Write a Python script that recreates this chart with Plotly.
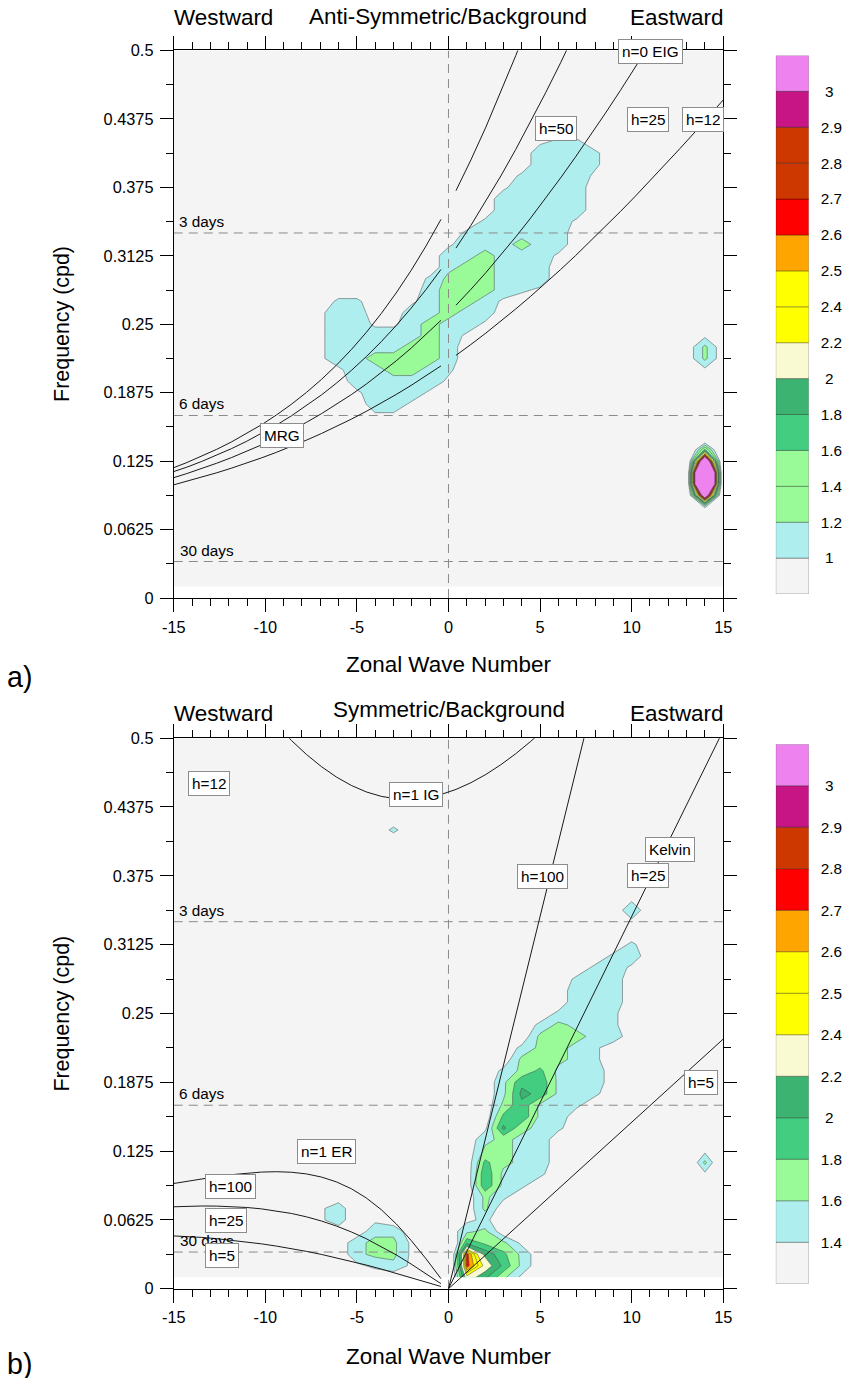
import numpy as np
import plotly.graph_objects as go

# Layout positions below are given in page pixels of an 842 x 1378 page.
# The page is shown with a small scale and offset, folded into these constants.
PAGE_W, PAGE_H = 842, 1378
VIEW_SCALE_X, VIEW_SHIFT_X = 0.9745, 11.9
VIEW_SCALE_Y, VIEW_SHIFT_Y = 0.986, 8.6
W = int(round((PAGE_W - VIEW_SHIFT_X) / VIEW_SCALE_X))
H = int(round((PAGE_H - VIEW_SHIFT_Y) / VIEW_SCALE_Y))
FS = 1 / 0.98                       # font size factor for the same scaling
FONT = "Liberation Sans, Arial, Helvetica, sans-serif"

# ---------------------------------------------------------------- grid
wavenumbers = list(range(-15, 16))
frequencies = [j / 96 for j in range(1, 49)]          # cpd, 96-day window

# Each code character is a spectral ratio: 0.05 + 0.1 * position in RATIO_CODES
RATIO_CODES = "0123456789abcdefghijklmnopqrstuvwxyzABCDEFGHIJKLMNOPQRSTUVWXYZ"

# wavenumber -> [(first frequency index, ratio codes going up in frequency)]
anti_background = "8"
anti_columns = {
    -7: [(21, "99999")],
    -6: [(20, "9bbbbba")],
    -5: [(18, "9bbbbbbba")],
    -4: [(16, "9bbbbcbb9")],
    -3: [(16, "9bbbccbb9")],
    -2: [(17, "9bbcccbbb9")],
    -1: [(18, "9bbccccbbba")],
    0: [(19, "9abbbbccccbb9")],
    1: [(23, "9bbccccbba")],
    2: [(24, "9bbccccbba")],
    3: [(26, "9bbbbbbbbb9")],
    4: [(27, "abbbcbbbbba")],
    5: [(27, "9bbbbbbbbbbbb9")],
    6: [(30, "9bbbbbbbbba")],
    7: [(33, "9bbbbbba")],
    8: [(37, "9aa")],
    13: [(7, "33333333")],
    14: [(7, "3azZZCg5"), (20, "9cc9")],
    15: [(7, "33333333")],
}

sym_background = "c"
sym_columns = {
    -7: [(6, "dd")],
    -6: [(6, "ff")],
    -5: [(2, "dff"), (6, "bb")],
    -4: [(2, "eggfd")],
    -3: [(2, "fggfc"), (40, "e")],
    -2: [(2, "ddd")],
    0: [(1, "8888")],
    1: [(1, "nrrjfd")],
    2: [(1, "knlhgeggjjigfd")],
    3: [(1, "gjigccceffgggkigffe")],
    4: [(1, "dffdcccceffffgjjkjgge")],
    5: [(10, "effffffjjiggge")],
    6: [(14, "efffffgggge")],
    7: [(16, "efffffgffffe")],
    8: [(17, "effeeffffffe")],
    9: [(22, "feeffffe")],
    10: [(28, "dfe"), (32, "dfd")],
    13: [(10, "aaa")],
    14: [(10, "dgd")],
    15: [(10, "aaa")],
}

# ---------------------------------------------------------------- levels / colours
WHITESMOKE = "#F4F4F4"
PALE_TURQ = "#AFEEEE"
PALE_GREEN = "#98FB98"
MED_GREEN = "#43CD80"
SEA_GREEN = "#3CB371"
CREAM = "#FAFAD2"
YELLOW = "#FFFF00"
ORANGE = "#FFA500"
RED = "#FF0000"
ORANGE_RED = "#CD3700"
VIOLET_RED = "#C71585"
VIOLET = "#EE82EE"

anti_levels = [1, 1.2, 1.4, 1.6, 1.8, 2, 2.2, 2.4, 2.5, 2.6, 2.7, 2.8, 2.9, 3]
anti_colors = [WHITESMOKE, PALE_TURQ, PALE_GREEN, PALE_GREEN, MED_GREEN, SEA_GREEN,
               CREAM, YELLOW, YELLOW, ORANGE, RED, ORANGE_RED, ORANGE_RED,
               VIOLET_RED, VIOLET]
sym_levels = [1.4, 1.6, 1.8, 2, 2.2, 2.4, 2.5, 2.6, 2.7, 2.8, 2.9, 3]
sym_colors = [WHITESMOKE, PALE_TURQ, PALE_GREEN, MED_GREEN, SEA_GREEN, CREAM,
              YELLOW, YELLOW, ORANGE, RED, ORANGE_RED, VIOLET_RED, VIOLET]

# ---------------------------------------------------------------- dispersion
EARTH_RADIUS = 6.371e6
GRAVITY = 9.81
BETA = 2 * 7.292e-5 / EARTH_RADIUS

anti_depths = [12, 25, 50, 90]          # MRG / n=0 EIG
kelvin_depths = [5, 25, 100]
er_depths = [5, 25, 100]                # n=1 ER
ig_depths = [25]                        # n=1 IG
period_days = [3, 6, 30]

curve_wavenumbers = np.linspace(20, -20, 50)


def to_cpd(omega):
    return omega * 86400 / (2 * np.pi)


def mrg_eig(depth, sign):
    c = np.sqrt(GRAVITY * depth)
    s = curve_wavenumbers[curve_wavenumbers * sign > 0]
    k = s / EARTH_RADIUS
    root = np.sqrt(1 + 4 * BETA / (k ** 2 * c))
    omega = k * c * (0.5 + sign * 0.5 * root)
    return s, to_cpd(omega)


def kelvin(depth):
    c = np.sqrt(GRAVITY * depth)
    s = np.concatenate([[0.0], curve_wavenumbers[curve_wavenumbers > 0][::-1]])
    return s, to_cpd(c * s / EARTH_RADIUS)


def rossby(depth):
    c = np.sqrt(GRAVITY * depth)
    s = curve_wavenumbers[curve_wavenumbers < 0]
    k = s / EARTH_RADIUS
    return s, to_cpd(-BETA * k / (k ** 2 + 3 * BETA / c))


def inertia_gravity(depth):
    c = np.sqrt(GRAVITY * depth)
    out = []
    for s in curve_wavenumbers:
        k = s / EARTH_RADIUS
        roots = np.roots([1.0, 0.0, -(c * c * k * k + 3 * BETA * c), -BETA * k * c * c])
        out.append(to_cpd(max(r.real for r in roots)))
    return curve_wavenumbers, np.array(out)


# ---------------------------------------------------------------- helpers
def ratio_grid(columns, background):
    grid = np.full((len(frequencies), len(wavenumbers)),
                   0.05 + 0.1 * RATIO_CODES.index(background))
    for k, segments in columns.items():
        for start, codes in segments:
            for off, ch in enumerate(codes):
                grid[start - 1 + off, wavenumbers.index(k)] = 0.05 + 0.1 * RATIO_CODES.index(ch)
    return grid


def px(x):
    """page pixel column -> paper fraction"""
    return (x - VIEW_SHIFT_X) / VIEW_SCALE_X / W


def py(y):
    """page pixel row -> paper fraction"""
    return 1 - (y - VIEW_SHIFT_Y) / VIEW_SCALE_Y / H


def fs(size):
    return size * FS


fig = go.Figure()


def add_panel(xa, ya, grid, levels, colors):
    xr, yr = xa.replace("axis", ""), ya.replace("axis", "")
    fig.add_trace(go.Heatmap(x=[wavenumbers[0], wavenumbers[-1]],
                             y=[frequencies[0], frequencies[-1]], z=[[0]],
                             colorscale=[[0, colors[0]], [1, colors[0]]],
                             showscale=False, hoverinfo="skip", xaxis=xr, yaxis=yr))
    # a constraint contour shades the region that breaks the constraint,
    # so "< level" paints everything at or above that level
    for level, color in zip(levels, colors[1:]):
        fig.add_trace(go.Contour(
            x=wavenumbers, y=frequencies, z=grid,
            contours=dict(type="constraint", operation="<", value=level),
            fillcolor=color,
            line=dict(color="rgba(70,70,70,0.75)", width=0.7, smoothing=0),
            showscale=False, showlegend=False, hoverinfo="skip",
            xaxis=xr, yaxis=yr))


def add_line(xr, yr, x, y, **kw):
    fig.add_trace(go.Scatter(x=x, y=y, mode="lines", showlegend=False,
                             hoverinfo="skip", xaxis=xr, yaxis=yr, **kw))


def add_reference_lines(xr, yr):
    for d in period_days:
        add_line(xr, yr, [-15, 15], [1 / d, 1 / d],
                 line=dict(color="#8a8a8a", width=1, dash="9px,6px"))
    add_line(xr, yr, [0, 0], [0, 0.5], line=dict(color="#8a8a8a", width=1, dash="9px,6px"))


CURVE = dict(color="#1a1a1a", width=1)

# ---- panel a: anti-symmetric
add_panel("xaxis", "yaxis", ratio_grid(anti_columns, anti_background), anti_levels, anti_colors)
add_reference_lines("x", "y")
for h in anti_depths:
    for sign in (-1, 1):
        s, f = mrg_eig(h, sign)
        add_line("x", "y", s, f, line=CURVE)

# ---- panel b: symmetric
add_panel("xaxis2", "yaxis2", ratio_grid(sym_columns, sym_background), sym_levels, sym_colors)
add_reference_lines("x2", "y2")
for h in kelvin_depths:
    s, f = kelvin(h)
    add_line("x2", "y2", s, f, line=CURVE)
for h in er_depths:
    s, f = rossby(h)
    add_line("x2", "y2", s, f, line=CURVE)
for h in ig_depths:
    s, f = inertia_gravity(h)
    add_line("x2", "y2", s, f, line=CURVE)


# ---- colour bars
def add_colorbar(xr, yr, colors):
    n = len(colors)
    fig.add_trace(go.Bar(x=[0] * n, y=[1] * n, base=list(range(n)), width=1,
                         marker=dict(color=colors, line=dict(color="rgba(0,0,0,0.3)", width=1)),
                         showlegend=False, hoverinfo="skip", xaxis=xr, yaxis=yr))


add_colorbar("x3", "y3", anti_colors)
add_colorbar("x4", "y4", sym_colors)

# ---------------------------------------------------------------- axes
x_ticks = [-15, -10, -5, 0, 5, 10, 15]
x_minor = [v for v in range(-15, 16) if v not in x_ticks]
y_ticks = [i / 16 for i in range(9)]
y_labels = ["0", "0.0625", "0.125", "0.1875", "0.25", "0.3125", "0.375", "0.4375", "0.5"]
y_minor = [(2 * i + 1) / 32 for i in range(8)]

X_DOMAIN = [px(173.5), px(722.5)]
TICKFONT = dict(family=FONT, size=fs(16), color="black")


def x_axis(anchor):
    return dict(domain=X_DOMAIN, anchor=anchor, range=[-15, 15], tickmode="array",
                tickvals=x_ticks, ticktext=[str(v) for v in x_ticks],
                ticks="outside", ticklen=13, tickwidth=1, tickcolor="black",
                minor=dict(tickmode="array", tickvals=x_minor, ticks="outside",
                           ticklen=7, tickwidth=1, tickcolor="black"),
                showline=True, linecolor="black", linewidth=1, mirror="ticks",
                showgrid=False, zeroline=False, tickfont=TICKFONT, ticklabelstandoff=1)


def y_axis(anchor, top, bottom):
    return dict(domain=[py(bottom), py(top)], anchor=anchor, range=[0, 0.5],
                tickmode="array", tickvals=y_ticks, ticktext=y_labels,
                ticks="outside", ticklen=13, tickwidth=1, tickcolor="black",
                minor=dict(tickmode="array", tickvals=y_minor, ticks="outside",
                           ticklen=7, tickwidth=1, tickcolor="black"),
                showline=True, linecolor="black", linewidth=1, mirror="ticks",
                showgrid=False, zeroline=False, tickfont=TICKFONT, ticklabelstandoff=3)


def cb_x(anchor):
    return dict(domain=[px(775), px(808)], anchor=anchor, range=[-0.5, 0.5], visible=False)


def cb_y(anchor, top, bottom, levels):
    n = len(levels) + 1
    return dict(domain=[py(bottom), py(top)], anchor=anchor, range=[0, n], side="right",
                tickmode="array", tickvals=list(range(1, n)),
                ticktext=[f"{v:g}" if len(f"{v:g}") > 1 else "\u2008" + f"{v:g}" for v in levels],
                ticks="", showline=False, showgrid=False, zeroline=False,
                tickfont=dict(family=FONT, size=fs(15), color="black"), ticklabelstandoff=11)


annotations = []


def text(x, y, s, size, angle=0):
    annotations.append(dict(x=px(x), y=py(y), xref="paper", yref="paper", text=s,
                            showarrow=False, xanchor="center", yanchor="middle",
                            textangle=angle, font=dict(family=FONT, size=fs(size), color="black")))


def box(xr, yr, k, f, s):
    annotations.append(dict(x=k, y=f, xref=xr, yref=yr, text=s, showarrow=False,
                            bgcolor="white", bordercolor="#8c8c8c", borderwidth=1,
                            borderpad=3, font=dict(family=FONT, size=fs(15), color="black")))


def day_labels(xr, yr):
    for d in period_days:
        annotations.append(dict(x=-13.5 + (0.3 if d >= 10 else 0), y=1 / d, xref=xr, yref=yr,
                                text=f"{d} days", showarrow=False, xanchor="center",
                                yanchor="bottom", yshift=1,
                                font=dict(family=FONT, size=fs(15), color="black")))


# panel a texts
text(223.5, 17, "Westward", 22)
text(448, 16, "Anti-Symmetric/Background", 22)
text(676.5, 17, "Eastward", 22)
text(62, 323, "Frequency (cpd)", 21, angle=-90)
text(448, 663, "Zonal Wave Number", 22)
text(19, 676, "a)", 28)
day_labels("x", "y")
for s, k, f in [("n=0 EIG", 11.03, 0.499), ("h=50", 5.88, 0.4287), ("h=25", 10.92, 0.4374),
                ("h=12", 13.87, 0.4374), ("MRG", -9.11, 0.1485)]:
    box("x", "y", k, f, s)

# panel b texts
text(223.5, 712, "Westward", 22)
text(449, 708, "Symmetric/Background", 22)
text(676.5, 712, "Eastward", 22)
text(62, 1012, "Frequency (cpd)", 21, angle=-90)
text(448, 1355, "Zonal Wave Number", 22)
text(19, 1362, "b)", 28)
day_labels("x2", "y2")
for s, k, f in [("h=12", -13.1, 0.459), ("n=1 IG", -1.78, 0.449), ("h=100", 5.12, 0.3745),
                ("Kelvin", 12.1, 0.399), ("h=25", 10.92, 0.375), ("h=5", 13.77, 0.1873),
                ("n=1 ER", -6.68, 0.1245), ("h=100", -11.9, 0.0932), ("h=25", -12.12, 0.0623),
                ("h=5", -12.34, 0.030)]:
    box("x2", "y2", k, f, s)

fig.update_layout(
    width=W, height=H, margin=dict(l=0, r=0, t=0, b=0),
    paper_bgcolor="white", plot_bgcolor="white", barmode="overlay",
    showlegend=False,
    xaxis=x_axis("y"), yaxis=y_axis("x", 50, 597),
    xaxis2=x_axis("y2"), yaxis2=y_axis("x2", 737, 1287),
    xaxis3=cb_x("y3"), yaxis3=cb_y("x3", 55, 593, anti_levels),
    xaxis4=cb_x("y4"), yaxis4=cb_y("x4", 743, 1282, sym_levels),
    annotations=annotations,
)

fig.write_html("out.html")
